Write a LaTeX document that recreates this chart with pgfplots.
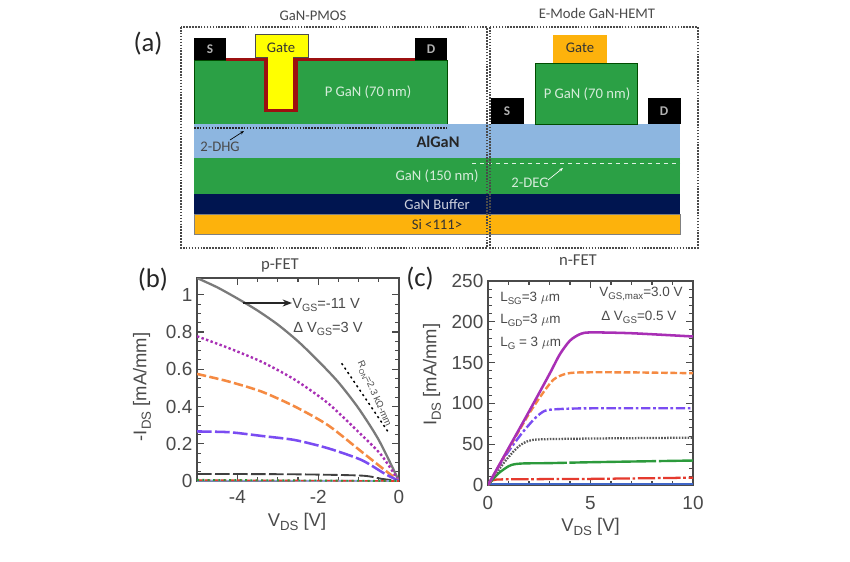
\documentclass[border=0pt]{standalone}
\usepackage{fontspec}
\setmainfont{Liberation Sans}
\newfontfamily\califont{Carlito}
\usepackage{pgfplots}
\pgfplotsset{compat=1.18}
\usetikzlibrary{arrows.meta}

\definecolor{ink}{HTML}{4A4A4A}
\definecolor{gangreen}{HTML}{2BA045}
\definecolor{algan}{HTML}{8DB6E0}
\definecolor{navy}{HTML}{001550}
\definecolor{siorange}{HTML}{FDB20C}
\definecolor{oxide}{HTML}{9C1010}
\definecolor{gategold}{HTML}{FFFF00}
\definecolor{cvpurple}{HTML}{A82FB5}
\definecolor{cvorange}{HTML}{F58A42}
\definecolor{cvviolet}{HTML}{7A4CF2}
\definecolor{cvgray}{HTML}{7A7A7A}
\definecolor{cvgreen}{HTML}{2C9A3C}
\definecolor{cvred}{HTML}{E53A2E}
\definecolor{cvblue}{HTML}{3F66C8}

\newcommand{\sub}[1]{\raisebox{-.45ex}{\fontsize{.72em}{1em}\selectfont #1}}

\pgfplotsset{fet/.style={
    scale only axis,
    anchor=south west,
    axis line style={ink,line width=1.3pt},
    tick style={ink,line width=.8pt},
    major tick length=5pt,
    minor tick length=3pt,
    tick align=inside,
    ticklabel style={ink,font=\fontsize{14.2}{16}\selectfont},
    /pgf/number format/assume math mode=true,
    label style={ink,font=\fontsize{13.8}{16}\selectfont},
    every axis plot/.append style={smooth,tension=.45},
    clip=true,
}}

\begin{document}
\begin{tikzpicture}
\useasboundingbox (0,0) rectangle (637.5pt,-420.75pt);
\fill[white] (0,0) rectangle (637.5pt,-420.75pt);

\begin{scope}[x=.75pt,y=-.75pt,font=\califont]
% stack
\fill[gangreen,draw=black!70!green,line width=.4pt] (194,60) rectangle (447,124);
\fill[algan] (194,124) rectangle (680,158);
\fill[gangreen] (194,158) rectangle (680,194);
\fill[navy] (194,194) rectangle (680,214.5);
\fill[siorange,draw=black!50,line width=.3pt] (194,214.5) rectangle (680,234);
% pmos
\fill[black] (194,38) rectangle (226,60);
\fill[black] (415,38) rectangle (447,60);
\fill[oxide] (226,57.5) rectangle (415,60.5);
\fill[oxide] (264,57) rectangle (298,112);
\fill[gategold,draw=black!70,line width=.3pt] (255,34) rectangle (308,57);
\fill[gategold] (268,56) rectangle (293,109);
% hemt
\fill[gangreen,draw=black!70!green,line width=.4pt] (535,63) rectangle (637,124);
\fill[siorange] (553,35) rectangle (607,63);
\fill[black] (491,98) rectangle (524,124);
\fill[black] (648,98) rectangle (681,124);
% carrier layers
\draw[black!85,line width=1.4pt,dash pattern=on 1.2pt off 1pt] (194,128) -- (447,128);
\draw[white!85!gangreen,line width=.7pt,dashed] (472,163) -- (680,163);
\draw[black,line width=.5pt,-{Stealth[length=3pt]}] (230,140) -- (244,131);
\draw[white,line width=.5pt,-{Stealth[length=3pt]}] (548,180) -- (563,168);
% boxes
\draw[ink,line width=1.4pt,dash pattern=on 1.2pt off 1pt] (181,27) rectangle (487,248);
\draw[ink,line width=1.4pt,dash pattern=on 1.2pt off 1pt] (490,27) rectangle (698,248);

\node[ink,font=\califont\fontsize{11}{13}\selectfont] at (313,16) {GaN-PMOS};
\node[ink,font=\califont\fontsize{11}{13}\selectfont] at (597,13) {E-Mode GaN-HEMT};
\node[black!85,font=\califont\fontsize{20}{24}\selectfont] at (148,44) {(a)};
\begin{scope}[every node/.style={font=\califont\fontsize{11}{13}\selectfont}]
\node[black!80] at (281,48) {Gate};
\node[black!80] at (580,48) {Gate};
\node[white!80!gangreen] at (368,92) {P GaN (70 nm)};
\node[white!80!gangreen] at (587,94) {P GaN (70 nm)};
\node[white!80!gangreen] at (437,176) {GaN (150 nm)};
\node[white!80!gangreen] at (530,183) {2-DEG};
\node[white!80!navy] at (437,204) {GaN Buffer};
\node[black!80] at (437,224) {Si <111>};
\node[ink] at (220,147) {2-DHG};
\node[white!70!black,font=\califont\bfseries\fontsize{10}{12}\selectfont] at (210,49) {S};
\node[white!70!black,font=\califont\bfseries\fontsize{10}{12}\selectfont] at (431,49) {D};
\node[white!70!black,font=\califont\bfseries\fontsize{10}{12}\selectfont] at (507,111) {S};
\node[white!70!black,font=\califont\bfseries\fontsize{10}{12}\selectfont] at (664,111) {D};
\node[black!85,font=\califont\bfseries\fontsize{12.2}{14}\selectfont] at (438,142) {AlGaN};
\end{scope}
\end{scope}

% p-FET
\begin{axis}[fet,
    at={(147.75pt,-360.75pt)},
    width=151.5pt,height=152.25pt,
    xmin=-5,xmax=0,ymin=0,ymax=1.09,
    xtick={-4,-2,0},
    minor x tick num=3,
    ytick={0,0.2,0.4,0.6,0.8,1},
    minor y tick num=3,
    xticklabel style={yshift=-3.5pt},
    xlabel={V\sub{DS} [V]},
    ylabel={-I\sub{DS} [mA/mm]},
    xlabel style={at={(axis description cs:.495,-.2)},anchor=center},
    ylabel style={at={(axis description cs:-.272,.463)},anchor=center},
]
\addplot[cvgray,line width=1.7pt] coordinates {(-5,1.09) (-4.5,1.04) (-4,.98) (-3.5,.915) (-3,.84) (-2.5,.75) (-2,.645) (-1.5,.53) (-1,.39) (-.5,.22) (0,0)};
\addplot[cvpurple,line width=1.8pt,dash pattern=on 1.8pt off 1.8pt] coordinates {(-5,.777) (-4.23,.715) (-3.4,.64) (-2.58,.544) (-1.76,.418) (-.93,.248) (-.44,.14) (0,0)};
\addplot[cvorange,line width=1.9pt,dash pattern=on 7pt off 2.5pt] coordinates {(-5,.575) (-4.23,.535) (-3.4,.48) (-2.58,.40) (-1.76,.30) (-.93,.158) (-.36,.06) (0,0)};
\addplot[cvviolet,line width=1.9pt,dash pattern=on 11pt off 2.5pt] coordinates {(-5,.266) (-4.2,.262) (-3.4,.242) (-2.58,.22) (-1.76,.176) (-.93,.113) (-.36,.04) (0,0)};
\addplot[black!75,line width=1.4pt,dash pattern=on 11pt off 2.5pt] coordinates {(-5,.038) (-2.58,.036) (-.93,.029) (-.44,.012) (0,0)};
\addplot[cvblue!60,line width=1.4pt] coordinates {(-5,.002) (0,0)};
\addplot[cvred,line width=1.2pt,dash pattern=on 4pt off 2pt] coordinates {(-5,.005) (0,0)};
\addplot[cvgreen,line width=1.4pt,dash pattern=on 1.5pt off 2.5pt] coordinates {(-5,.006) (0,0)};
\addplot[black,line width=1.1pt,dash pattern=on 1.6pt off 2.4pt] coordinates {(-1.42,.632) (-.27,.264)};
\end{axis}

% n-FET
\begin{axis}[fet,
    at={(366pt,-363.75pt)},
    width=153.75pt,height=153pt,
    xmin=0,xmax=10,ymin=0,ymax=250,
    xtick={0,5,10},
    minor x tick num=4,
    ytick={0,50,100,150,200,250},
    minor y tick num=4,
    xticklabel style={yshift=-5pt},
    xlabel={V\sub{DS} [V]},
    ylabel={I\sub{DS} [mA/mm]},
    xlabel style={at={(axis description cs:.5,-.206)},anchor=center},
    ylabel style={at={(axis description cs:-.273,.54)},anchor=center},
]
\addplot[cvblue,line width=1.7pt] coordinates {(0,1) (10,1)};
\addplot[cvred,line width=1.7pt,dash pattern=on 13pt off 2pt on 2pt off 2pt] coordinates {(0,0) (.25,6) (1,7) (5,7.5) (10,9)};
\addplot[cvgreen,line width=1.8pt,dash pattern=on 65pt off 2pt] coordinates {(0,0) (.5,14) (1,23) (1.3,25.5) (1.8,26.5) (2.94,26.8) (5.2,28) (10,30)};
\addplot[black!65,line width=1.7pt,dash pattern=on 1.2pt off 1pt] coordinates {(0,0) (.83,29) (1.48,47) (1.97,54) (2.6,56) (5.2,57) (10,58)};
\addplot[cvviolet,line width=1.8pt,dash pattern=on 7pt off 2pt on 2pt off 2pt] coordinates {(0,0) (.83,35) (1.64,63) (2.3,82) (2.78,91) (3.43,93) (5,94) (10,94)};
\addplot[cvorange,line width=1.8pt,dash pattern=on 5pt off 2pt] coordinates {(0,0) (1,44) (1.97,86) (2.6,110) (3.19,129) (3.76,136) (4.5,138) (7,138) (10,137)};
\addplot[cvpurple,line width=1.9pt] coordinates {(0,0) (1,45) (2,90) (3,136) (3.5,160) (4,177) (4.5,185) (5,187) (7,186) (10,182)};
\end{axis}

\begin{scope}[x=.75pt,y=-.75pt]
\node[black!85,font=\califont\fontsize{20}{24}\selectfont] at (153,280) {(b)};
\node[black!85,font=\califont\fontsize{20}{24}\selectfont] at (420,279) {(c)};
\node[ink,font=\califont\fontsize{12.5}{15}\selectfont] at (280,265) {p-FET};
\node[ink,font=\califont\fontsize{12.5}{15}\selectfont] at (578,260) {n-FET};
\draw[black!85,line width=1.3pt,-{Stealth[length=7pt]}] (243,303) -- (292,303);
\begin{scope}[every node/.style={ink,anchor=west,inner sep=0pt,font=\fontsize{11}{13}\selectfont}]
\node at (292,305) {V\sub{GS}=-11 V};
\node at (293,329) {Δ V\sub{GS}=3 V};
\end{scope}
\begin{scope}[every node/.style={ink,anchor=west,inner sep=0pt,font=\fontsize{10.1}{12}\selectfont}]
\node at (500,298) {L\sub{SG}=3 $\mu$m};
\node at (500,320) {L\sub{GD}=3 $\mu$m};
\node at (500,343) {L\sub{G} = 3 $\mu$m};
\node at (599,294) {V\sub{GS,max}=3.0 V};
\node at (601,317) {Δ V\sub{GS}=0.5 V};
\end{scope}
\node[ink,rotate=-66,font=\fontsize{7.2}{9}\selectfont] at (374,394) {R\sub{ON}=2.3 kΩ-mm};
\end{scope}
\end{tikzpicture}
\end{document}
